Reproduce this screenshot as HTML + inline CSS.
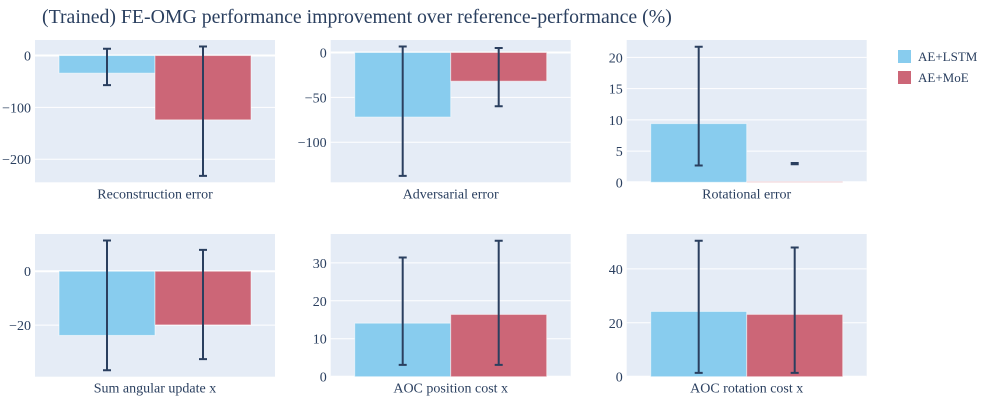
<!DOCTYPE html>
<html><head><meta charset="utf-8"><style>
html,body{margin:0;padding:0;background:#fff;}
svg{display:block;font-family:"Liberation Serif",serif;}
</style></head><body>
<svg id="chart" width="1000" height="400" xmlns="http://www.w3.org/2000/svg">
<text x="42" y="23" font-size="19.8" fill="#2a3f5f">(Trained) FE-OMG performance improvement over reference-performance (%)</text>
<g>
<rect x="898" y="50" width="13" height="13" fill="#88CCEE"/>
<text x="918" y="61" font-size="13" fill="#2a3f5f">AE+LSTM</text>
<rect x="898" y="71" width="13" height="13" fill="#CC6677"/>
<text x="918" y="82" font-size="13" fill="#2a3f5f">AE+MoE</text>
</g>
</svg>
<script>
const categories = ["Reconstruction error","Adversarial error","Rotational error","Sum angular update x","AOC position cost x","AOC rotation cost x"];
const lstmValues = [-34, -72, 9.4, -23.8, 14.1, 24.2];
const lstmErrHigh = [13, 6.7, 21.7, 11.4, 31.4, 50.4];
const lstmErrLow = [-57, -137.5, 2.7, -36.7, 3.1, 1.4];
const moeValues = [-124, -32, 0.1, -19.9, 16.4, 23.1];
const moeErrHigh = [17.5, 5, 3.1, 7.9, 35.8, 47.9];
const moeErrLow = [-232, -60, 2.9, -32.6, 3.1, 1.4];
const tickSteps = [100, 50, 5, 20, 10, 20];

const NS = "http://www.w3.org/2000/svg";
const svg = document.getElementById("chart");
const colX = [35, 330.7, 626.7];
const rowY = [[40, 182.3], [234, 376.7]];
const W = 240;
function mk(tag, attrs, parent) {
  const e = document.createElementNS(NS, tag);
  for (const k in attrs) e.setAttribute(k, attrs[k]);
  (parent || svg).appendChild(e);
  return e;
}
function fmt(v) { return v < 0 ? "\u2212" + Math.abs(v) : String(v); }

categories.forEach((cat, i) => {
  const x0 = colX[i % 3], top = rowY[Math.floor(i / 3)][0], bot = rowY[Math.floor(i / 3)][1];
  const all = [lstmValues[i], lstmErrHigh[i], lstmErrLow[i], moeValues[i], moeErrHigh[i], moeErrLow[i], 0];
  let lo = Math.min(...all), hi = Math.max(...all);
  const pad = (hi - lo) * 0.05;
  lo = lo >= 0 ? 0 : lo - pad;
  hi = hi <= 0 ? 0 : hi + pad;
  const y = v => bot - (v - lo) / (hi - lo) * (bot - top);
  const g = mk("g", {});
  
  
  const bg = mk("rect", {x: x0, y: top, width: W, height: bot - top, fill: "#E5ECF6"}, g);
  
  
  const step = tickSteps[i];
  for (let t = Math.ceil(lo / step) * step; t <= hi; t += step) {
    const ty = y(t);
    const gl = mk("line", {x1: x0, x2: x0 + W, y1: ty, y2: ty, stroke: "#fff", "stroke-width": t === 0 ? 2 : 1}, g);
    
    
    const tl = mk("text", {x: x0 - 4, y: ty + 5, "text-anchor": "end", "font-size": 14, fill: "#2a3f5f"}, g);
    tl.textContent = fmt(t);
    
    
  }
  const series = [
    {v: lstmValues[i], h: lstmErrHigh[i], l: lstmErrLow[i], c: "#88CCEE", n: "lstm"},
    {v: moeValues[i], h: moeErrHigh[i], l: moeErrLow[i], c: "#CC6677", n: "moe"}
  ];
  const bw = W * 0.8 / 2;
  series.forEach((s, k) => {
    const bx = x0 + W * 0.1 + k * bw;
    const y0 = y(0), yv = y(s.v);
    const r = mk("rect", {x: bx, y: Math.min(y0, yv), width: bw, height: Math.abs(y0 - yv), fill: s.c, stroke: "rgba(255,255,255,0.5)", "stroke-width": 1}, g);
    
    
    const cx = bx + bw / 2, yh = y(s.h), yl = y(s.l);
    const eb = mk("path", {d: `M${cx},${yh}V${yl}M${cx-4},${yh}H${cx+4}M${cx-4},${yl}H${cx+4}`, stroke: "#2a3f5f", "stroke-width": 2, fill: "none"}, g);
    
    
  });
  const xl = mk("text", {x: x0 + W / 2, y: bot + 16, "text-anchor": "middle", "font-size": 14, fill: "#2a3f5f"}, g);
  xl.textContent = cat;
  
  
});
</script>
</body></html>
